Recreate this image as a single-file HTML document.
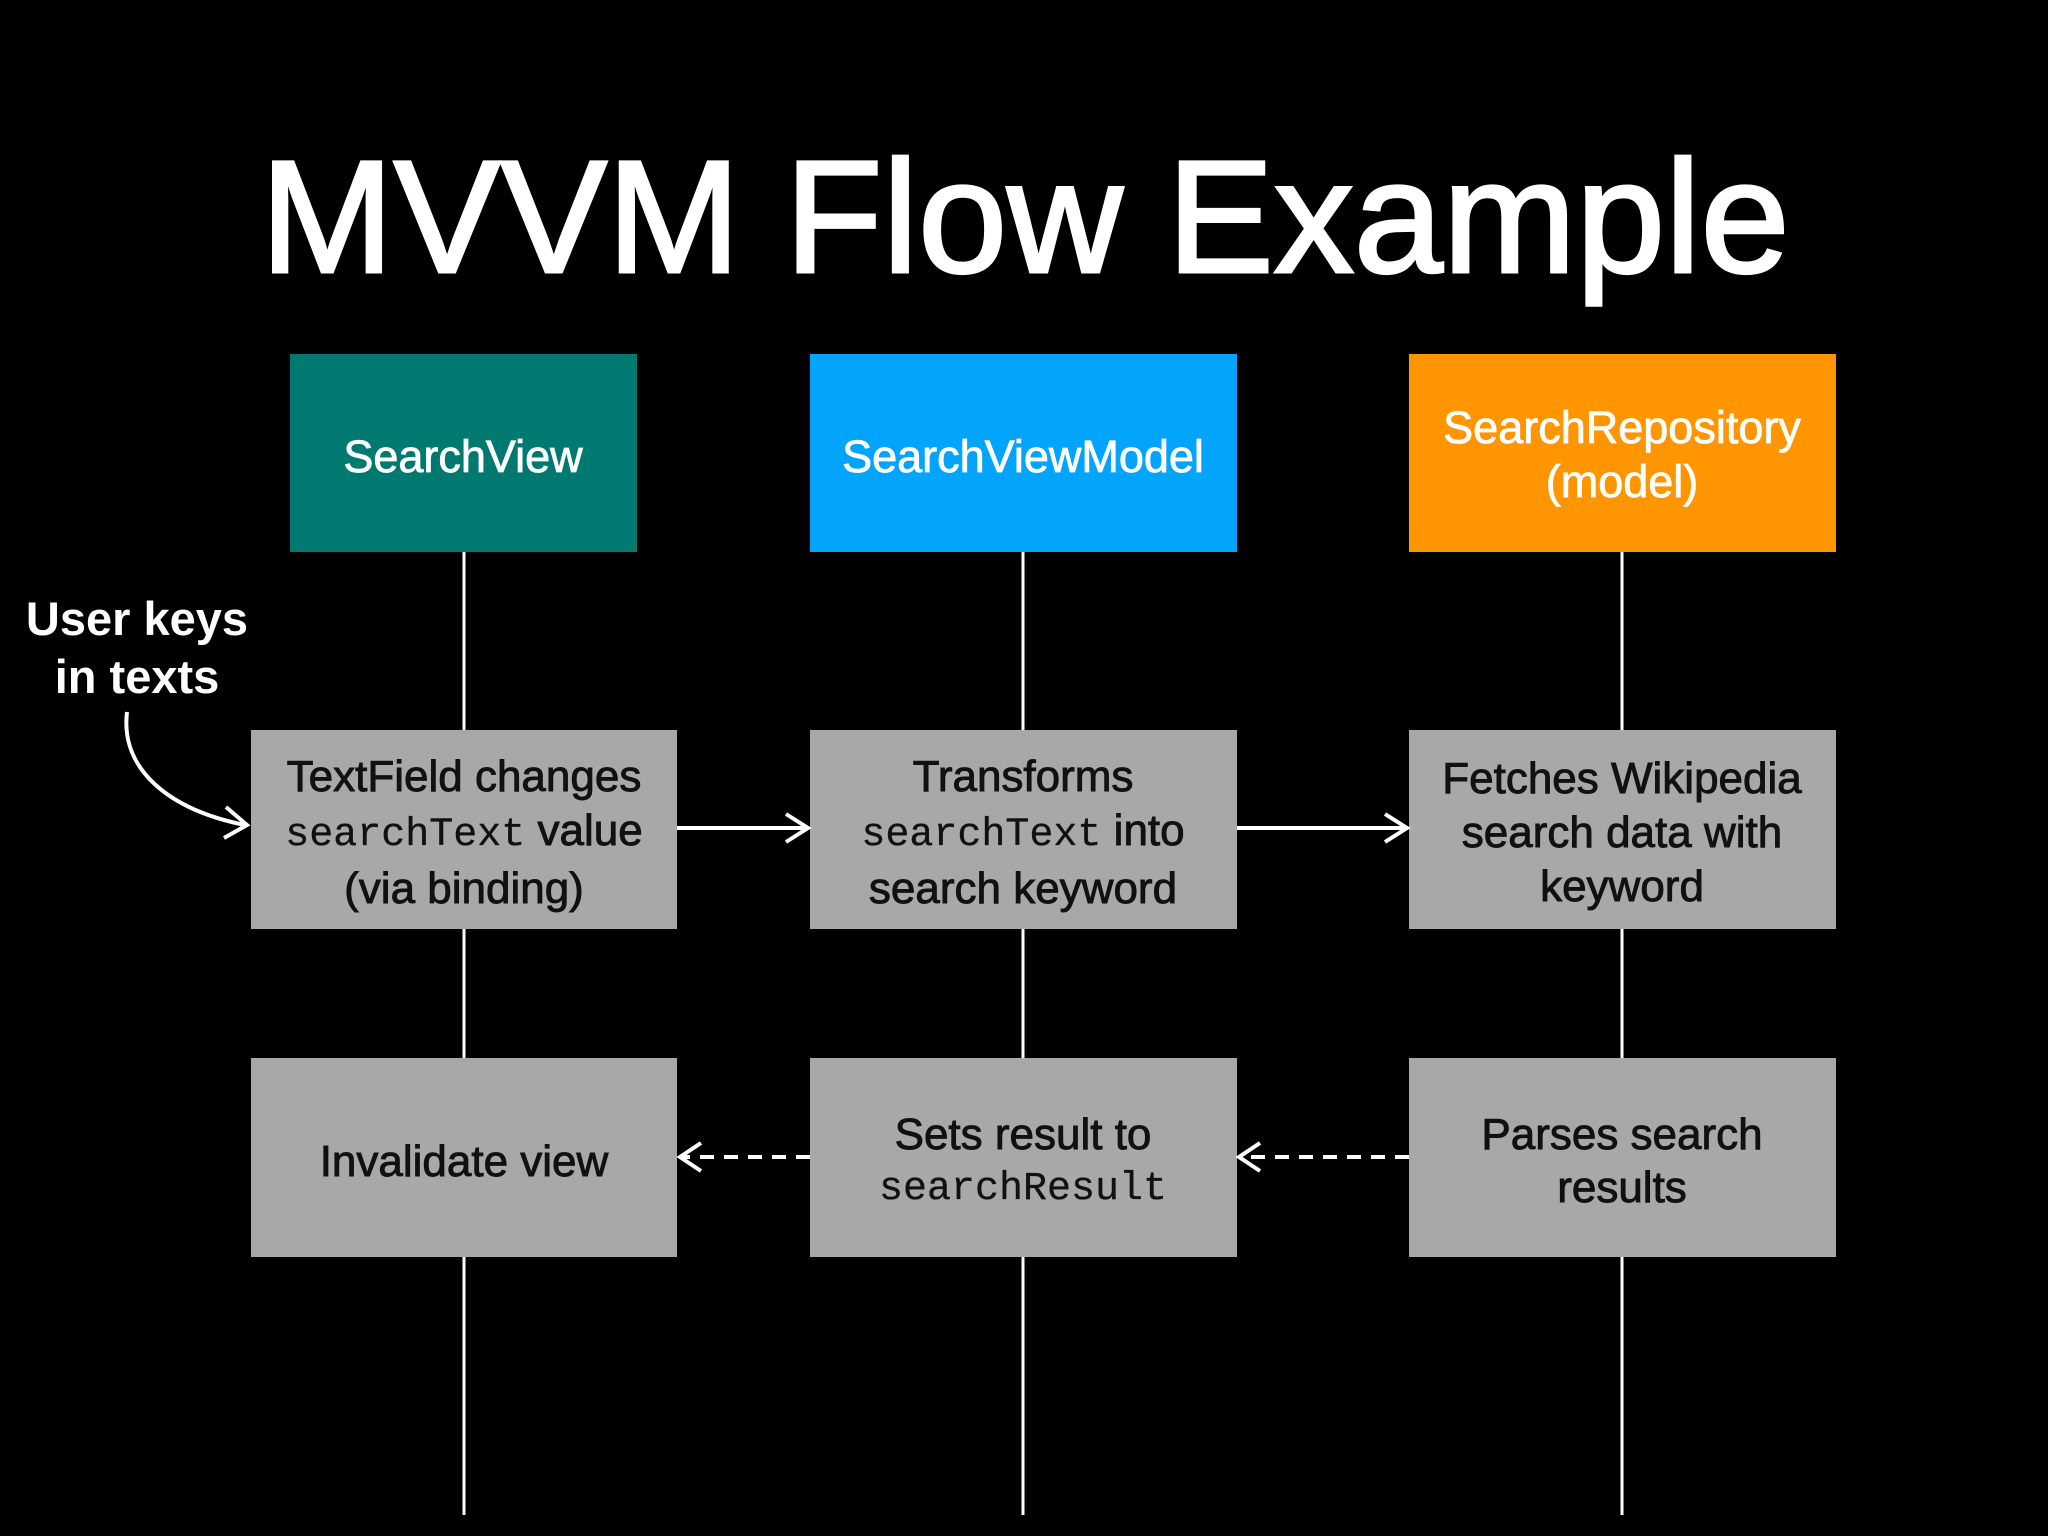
<!DOCTYPE html>
<html><head><meta charset="utf-8"><style>
html,body{margin:0;padding:0;background:#000;}
svg{display:block}
.t{font-family:"Liberation Sans",sans-serif;fill:#111;stroke:#111;stroke-width:0.9px;font-size:44px;text-anchor:middle}
.m{font-family:"Liberation Mono",monospace;font-size:40px;stroke-width:0.3px}
.h{font-family:"Liberation Sans",sans-serif;fill:#fff;stroke:#fff;stroke-width:0.8px;font-size:45px;text-anchor:middle}
</style></head><body>
<svg width="2048" height="1536" viewBox="0 0 2048 1536">
<rect width="2048" height="1536" fill="#000"/>
<text x="1025" y="272" font-family="Liberation Sans,sans-serif" font-size="160" fill="#fff" stroke="#fff" stroke-width="3" text-anchor="middle">MVVM Flow Example</text>
<g stroke="#fff" stroke-width="3">
<line x1="464" y1="552" x2="464" y2="1515"/>
<line x1="1023" y1="552" x2="1023" y2="1515"/>
<line x1="1622" y1="552" x2="1622" y2="1515"/>
</g>
<rect x="290" y="354" width="347" height="198" fill="#007a70"/>
<rect x="810" y="354" width="427" height="198" fill="#03a5fc"/>
<rect x="1409" y="354" width="427" height="198" fill="#ff9500"/>
<text class="h" x="463" y="472">SearchView</text>
<text class="h" x="1023" y="472">SearchViewModel</text>
<text class="h" x="1622" y="443">SearchRepository</text>
<text class="h" x="1622" y="497">(model)</text>
<g fill="#a8a8a8">
<rect x="251" y="730" width="426" height="199"/>
<rect x="810" y="730" width="427" height="199"/>
<rect x="1409" y="730" width="427" height="199"/>
<rect x="251" y="1058" width="426" height="199"/>
<rect x="810" y="1058" width="427" height="199"/>
<rect x="1409" y="1058" width="427" height="199"/>
</g>
<text class="t" x="464" y="791">TextField changes</text>
<text class="t" x="464" y="845"><tspan class="m">searchText</tspan> value</text>
<text class="t" x="464" y="903">(via binding)</text>
<text class="t" x="1023" y="791">Transforms</text>
<text class="t" x="1023" y="845"><tspan class="m">searchText</tspan> into</text>
<text class="t" x="1023" y="903">search keyword</text>
<text class="t" x="1622" y="793">Fetches Wikipedia</text>
<text class="t" x="1622" y="847">search data with</text>
<text class="t" x="1622" y="901">keyword</text>
<text class="t" x="464" y="1176">Invalidate view</text>
<text class="t" x="1023" y="1149">Sets result to</text>
<text class="t m" x="1023" y="1199">searchResult</text>
<text class="t" x="1622" y="1149">Parses search</text>
<text class="t" x="1622" y="1202">results</text>
<g stroke="#fff" stroke-width="4" fill="none">
<line x1="677" y1="828" x2="806" y2="828"/>
<polyline points="786,814 808,828 786,842"/>
<line x1="1237" y1="828" x2="1405" y2="828"/>
<polyline points="1385,814 1407,828 1385,842"/>
<line x1="810" y1="1157" x2="682" y2="1157" stroke-dasharray="14,10"/>
<polyline points="701,1143 680,1157 701,1171"/>
<line x1="1409" y1="1157" x2="1241" y2="1157" stroke-dasharray="14,10"/>
<polyline points="1260,1143 1239,1157 1260,1171"/>
<path d="M127,712 C120,770 170,810 245,825"/>
<polyline points="226,807 247,825 224,838"/>
</g>
<text x="137" y="635" font-family="Liberation Sans,sans-serif" font-weight="bold" font-size="47" fill="#fff" text-anchor="middle">User keys</text>
<text x="137" y="693" font-family="Liberation Sans,sans-serif" font-weight="bold" font-size="47" fill="#fff" text-anchor="middle">in texts</text>
</svg>
</body></html>
